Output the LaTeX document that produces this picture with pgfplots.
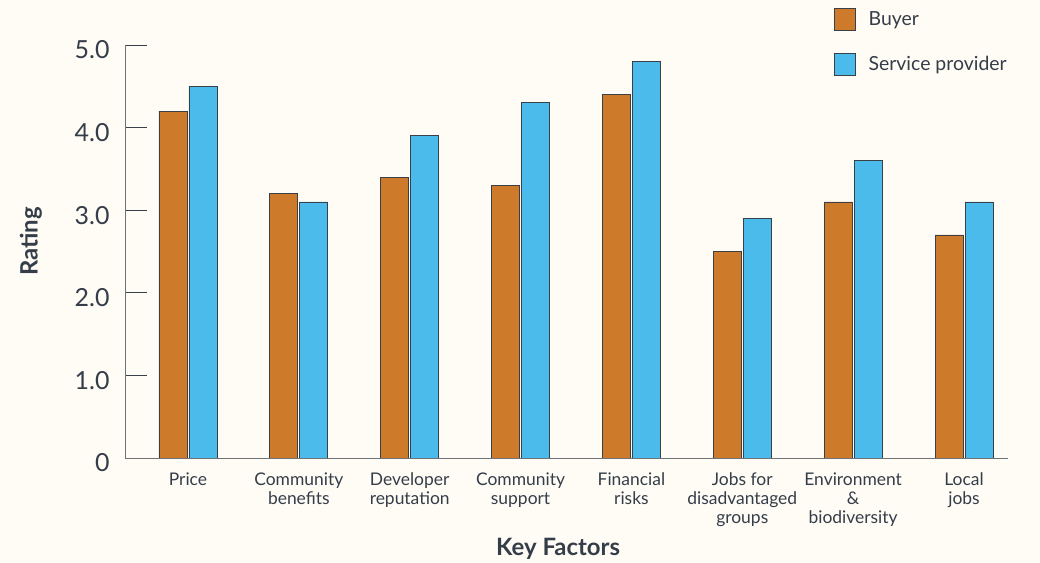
\documentclass[border=0pt]{standalone}
\usepackage{pgfplots}
\pgfplotsset{compat=1.18}
\usepackage{fontspec}
\setmainfont{Lato}
\definecolor{bg}{HTML}{FFFCF6}
\definecolor{buyer}{HTML}{CD7B2A}
\definecolor{prov}{HTML}{4ABBEA}
\definecolor{edge}{HTML}{3A4048}
\definecolor{txt}{HTML}{343D48}
\definecolor{axgray}{HTML}{6E7378}
\begin{document}
\begin{tikzpicture}[x=1bp,y=1bp]
\fill[bg] (0,0) rectangle (1040,563);
\useasboundingbox (0,0) rectangle (1040,563);
\begin{axis}[
  at={(125bp,105bp)}, anchor=south west,
  scale only axis, width=883bp, height=413bp,
  xmin=-0.568, xmax=7.397, ymin=0, ymax=5,
  axis lines=left, axis line style={-, draw=axgray, line width=0.9pt},
  ybar, bar width=28bp,
  xtick={0,1,2,3,4,5,6,7},
  xticklabels={Price, {Community\\benefits}, {Developer\\reputation}, {Community\\support}, {Financial\\risks}, {Jobs for\\disadvantaged\\groups}, {Environment\\\&\\biodiversity}, {Local\\jobs}},
  x tick style={draw=none},
  xticklabel style={align=center, font=\fontsize{17.5}{19.2}\selectfont, text=txt, yshift=-11bp},
  extra x ticks={7.397}, extra x tick labels={},
  extra x tick style={tick style={draw=axgray, line width=0.9pt}, major tick length=20bp, tick align=inside},
  ytick={0,1,2,3,4,5},
  yticklabels={0,1.0,2.0,3.0,4.0,5.0},
  tick align=inside, major tick length=22bp,
  y tick style={draw=edge, line width=0.9pt},
  yticklabel style={font=\fontsize{25}{25}\selectfont, text=txt, xshift=-12bp, yshift=-5bp},
  xlabel={Key Factors}, ylabel={Rating},
  xlabel style={at={(axis description cs:0.4905,0)}, anchor=center, yshift=-91bp, font=\bfseries\fontsize{24}{24}\selectfont, text=txt},
  ylabel style={at={(axis description cs:-0.1065,0.524)}, anchor=center, font=\bfseries\fontsize{24}{24}\selectfont, text=txt},
  legend style={at={(axis description cs:0.803,1.0895)}, anchor=north west, draw=none, fill=none,
    font=\fontsize{19.5}{19.5}\selectfont, text=txt, row sep=21.5bp, inner sep=0pt},
  legend cell align=left,
  legend image code/.code={\draw[#1, draw=edge, line width=0.8pt] (0bp,-11bp) rectangle (21bp,11bp); \path[draw=none, fill=none] (0bp,0bp) -- (32bp,0bp);},
]
\addplot[fill=buyer, draw=edge, line width=0.8pt, bar shift=-15bp] coordinates {(0,4.2) (1,3.2) (2,3.4) (3,3.3) (4,4.4) (5,2.5) (6,3.1) (7,2.7)};
\addplot[fill=prov, draw=edge, line width=0.8pt, bar shift=15bp] coordinates {(0,4.5) (1,3.1) (2,3.9) (3,4.3) (4,4.8) (5,2.9) (6,3.6) (7,3.1)};
\legend{Buyer, Service provider}
\end{axis}
\end{tikzpicture}
\end{document}
